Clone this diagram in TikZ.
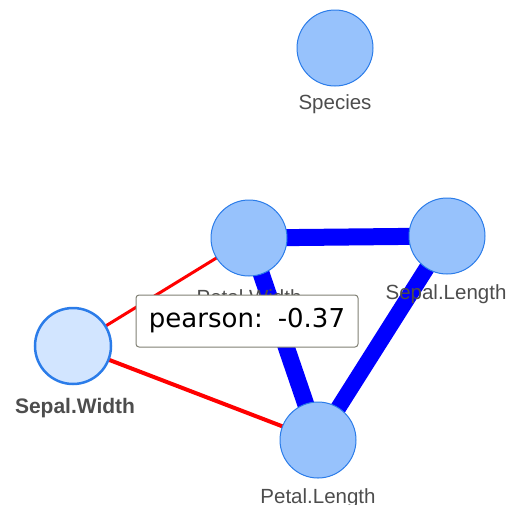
\documentclass[tikz,border=0pt]{standalone}
\usepackage{fontspec}
\setmainfont{Liberation Sans}
\newfontfamily\tipfont{DejaVu Sans}
\definecolor{nodefill}{HTML}{97C2FC}
\definecolor{nodeborder}{HTML}{2B7CE9}
\definecolor{selfill}{HTML}{D2E5FF}
\definecolor{labelgray}{HTML}{4D4D4D}
\definecolor{tipborder}{HTML}{808074}
\begin{document}
\begin{tikzpicture}[x=1pt,y=-1pt,
  vnode/.style={circle,draw=nodeborder,fill=nodefill,line width=1pt,minimum size=76pt,inner sep=0pt},
  selnode/.style={vnode,fill=selfill,line width=2.5pt},
  vlabel/.style={text=labelgray,font=\fontsize{20.5}{22}\selectfont,inner sep=0pt},
  posedge/.style={draw=blue,line width=17pt},
  negedge/.style={draw=red,line width=3pt}]
\useasboundingbox (0,0) rectangle (513,504);
% edges
\coordinate (pw) at (249,238);
\coordinate (sl) at (447,236);
\coordinate (sw) at (73,346);
\coordinate (pl) at (318,440);
\draw[posedge] (pw) -- (sl);
\draw[posedge] (pw) -- (pl);
\draw[posedge,line width=16pt] (sl) -- (pl);
\draw[negedge] (sw) -- (pw);
\draw[negedge,line width=4pt] (sw) -- (pl);
% nodes
\node[vnode] (species) at (335,48) {};
\node[vnode] (petalwidth) at (pw) {};
\node[vnode] (sepallength) at (sl) {};
\node[selnode] (sepalwidth) at (sw) {};
\node[vnode] (petallength) at (pl) {};
% labels
\node[vlabel] (lspecies) at (335,104) {Species};
\node[vlabel] (lpetalwidth) at (249,297) {Petal.Width};
\node[vlabel] (lsepallength) at (446,294) {Sepal.Length};
\node[vlabel,font=\fontsize{21}{22}\selectfont\bfseries] (lsepalwidth) at (75,408) {Sepal.Width};
\node[vlabel] (lpetallength) at (318,498) {Petal.Length};
% tooltip
\node[draw=tipborder,fill=white,rounded corners=3pt,line width=1pt,
      minimum width=222pt,minimum height=52pt,inner sep=0pt,
      font=\tipfont\fontsize{26}{28}\selectfont] (tooltip) at (247,321) {pearson:\hspace{4pt} -0.37};
\end{tikzpicture}
\end{document}
